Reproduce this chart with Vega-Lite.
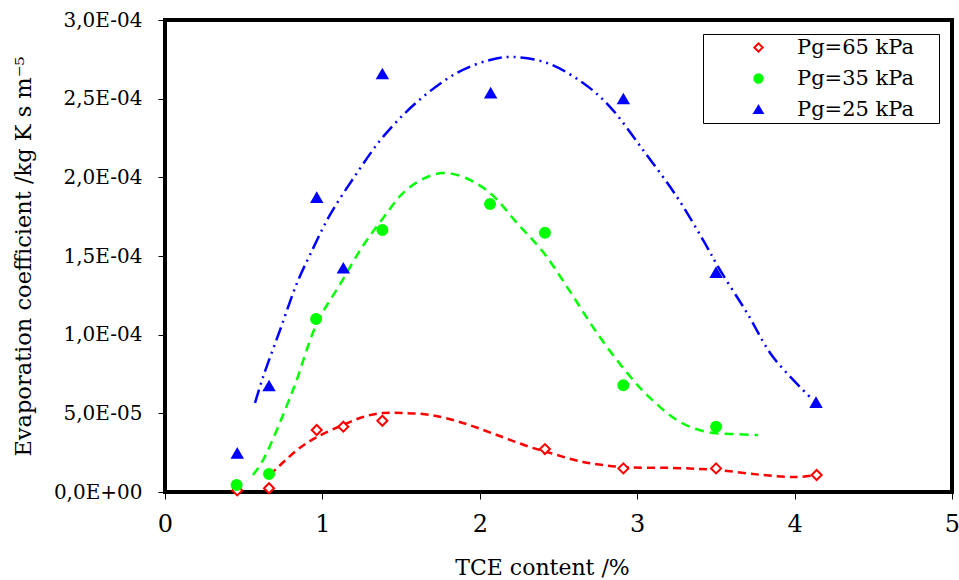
{
  "$schema": "https://vega.github.io/schema/vega-lite/v6.json",
  "width": 787,
  "height": 472,
  "autosize": {"type": "none"},
  "padding": {"left": 165, "top": 20, "right": 7, "bottom": 88},
  "background": "white",
  "config": {
    "font": "DejaVu Serif",
    "view": {"stroke": "black", "strokeWidth": 4},
    "axis": {"grid": false, "domain": false, "tickColor": "black", "tickWidth": 1, "labelColor": "black", "titleColor": "black", "titleFontWeight": "normal", "labelFont": "DejaVu Serif", "titleFont": "DejaVu Serif"},
    "legend": {"labelFont": "DejaVu Serif", "titleFont": "DejaVu Serif"}
  },
  "datasets": {
    "points": [
      {"series": "Pg=65 kPa", "x": 0.459, "y": 0.000001},
      {"series": "Pg=65 kPa", "x": 0.661, "y": 0.0000024},
      {"series": "Pg=65 kPa", "x": 0.964, "y": 0.0000394},
      {"series": "Pg=65 kPa", "x": 1.133, "y": 0.0000415},
      {"series": "Pg=65 kPa", "x": 1.381, "y": 0.0000453},
      {"series": "Pg=65 kPa", "x": 2.414, "y": 0.0000273},
      {"series": "Pg=65 kPa", "x": 2.912, "y": 0.000015},
      {"series": "Pg=65 kPa", "x": 3.501, "y": 0.000015},
      {"series": "Pg=65 kPa", "x": 4.14, "y": 0.0000108},
      {"series": "Pg=35 kPa", "x": 0.455, "y": 0.0000045},
      {"series": "Pg=35 kPa", "x": 0.661, "y": 0.0000114},
      {"series": "Pg=35 kPa", "x": 0.96, "y": 0.00011},
      {"series": "Pg=35 kPa", "x": 1.381, "y": 0.0001666},
      {"series": "Pg=35 kPa", "x": 2.065, "y": 0.0001831},
      {"series": "Pg=35 kPa", "x": 2.414, "y": 0.0001648},
      {"series": "Pg=35 kPa", "x": 2.912, "y": 0.0000678},
      {"series": "Pg=35 kPa", "x": 3.501, "y": 0.0000415},
      {"series": "Pg=25 kPa", "x": 0.459, "y": 0.0000246},
      {"series": "Pg=25 kPa", "x": 0.661, "y": 0.0000674},
      {"series": "Pg=25 kPa", "x": 0.964, "y": 0.0001871},
      {"series": "Pg=25 kPa", "x": 1.133, "y": 0.0001422},
      {"series": "Pg=25 kPa", "x": 1.381, "y": 0.0002657},
      {"series": "Pg=25 kPa", "x": 2.069, "y": 0.0002535},
      {"series": "Pg=25 kPa", "x": 2.912, "y": 0.0002498},
      {"series": "Pg=25 kPa", "x": 3.501, "y": 0.0001394},
      {"series": "Pg=25 kPa", "x": 4.136, "y": 0.0000568}
    ],
    "curves": [
      {"series": "Pg=65 kPa", "x": 0.667, "y": 0.0000108},
      {"series": "Pg=65 kPa", "x": 0.839, "y": 0.0000267},
      {"series": "Pg=65 kPa", "x": 0.966, "y": 0.000035},
      {"series": "Pg=65 kPa", "x": 1.131, "y": 0.0000426},
      {"series": "Pg=65 kPa", "x": 1.258, "y": 0.0000477},
      {"series": "Pg=65 kPa", "x": 1.385, "y": 0.0000502},
      {"series": "Pg=65 kPa", "x": 1.512, "y": 0.0000502},
      {"series": "Pg=65 kPa", "x": 1.684, "y": 0.000049},
      {"series": "Pg=65 kPa", "x": 1.893, "y": 0.0000439},
      {"series": "Pg=65 kPa", "x": 2.109, "y": 0.0000362},
      {"series": "Pg=65 kPa", "x": 2.319, "y": 0.0000286},
      {"series": "Pg=65 kPa", "x": 2.427, "y": 0.0000254},
      {"series": "Pg=65 kPa", "x": 2.656, "y": 0.0000191},
      {"series": "Pg=65 kPa", "x": 2.91, "y": 0.0000159},
      {"series": "Pg=65 kPa", "x": 3.227, "y": 0.0000153},
      {"series": "Pg=65 kPa", "x": 3.507, "y": 0.000014},
      {"series": "Pg=65 kPa", "x": 3.799, "y": 0.0000108},
      {"series": "Pg=65 kPa", "x": 4.015, "y": 0.0000095},
      {"series": "Pg=65 kPa", "x": 4.142, "y": 0.0000108},
      {"series": "Pg=35 kPa", "x": 0.559, "y": 0.0000108},
      {"series": "Pg=35 kPa", "x": 0.623, "y": 0.0000203},
      {"series": "Pg=35 kPa", "x": 0.813, "y": 0.0000648},
      {"series": "Pg=35 kPa", "x": 0.966, "y": 0.0001074},
      {"series": "Pg=35 kPa", "x": 1.112, "y": 0.000132},
      {"series": "Pg=35 kPa", "x": 1.258, "y": 0.0001565},
      {"series": "Pg=35 kPa", "x": 1.385, "y": 0.000174},
      {"series": "Pg=35 kPa", "x": 1.512, "y": 0.00019},
      {"series": "Pg=35 kPa", "x": 1.639, "y": 0.000199},
      {"series": "Pg=35 kPa", "x": 1.766, "y": 0.0002028},
      {"series": "Pg=35 kPa", "x": 1.893, "y": 0.0002003},
      {"series": "Pg=35 kPa", "x": 2.065, "y": 0.0001901},
      {"series": "Pg=35 kPa", "x": 2.236, "y": 0.000171},
      {"series": "Pg=35 kPa", "x": 2.406, "y": 0.000152},
      {"series": "Pg=35 kPa", "x": 2.576, "y": 0.000127},
      {"series": "Pg=35 kPa", "x": 2.745, "y": 0.000101},
      {"series": "Pg=35 kPa", "x": 2.936, "y": 0.0000757},
      {"series": "Pg=35 kPa", "x": 3.081, "y": 0.0000598},
      {"series": "Pg=35 kPa", "x": 3.272, "y": 0.0000445},
      {"series": "Pg=35 kPa", "x": 3.443, "y": 0.0000381},
      {"series": "Pg=35 kPa", "x": 3.609, "y": 0.0000369},
      {"series": "Pg=35 kPa", "x": 3.767, "y": 0.0000362},
      {"series": "Pg=25 kPa", "x": 0.572, "y": 0.0000566},
      {"series": "Pg=25 kPa", "x": 0.623, "y": 0.0000731},
      {"series": "Pg=25 kPa", "x": 0.731, "y": 0.000103},
      {"series": "Pg=25 kPa", "x": 0.839, "y": 0.0001329},
      {"series": "Pg=25 kPa", "x": 0.921, "y": 0.0001507},
      {"series": "Pg=25 kPa", "x": 1.048, "y": 0.0001761},
      {"series": "Pg=25 kPa", "x": 1.22, "y": 0.0002028},
      {"series": "Pg=25 kPa", "x": 1.385, "y": 0.0002257},
      {"series": "Pg=25 kPa", "x": 1.601, "y": 0.0002479},
      {"series": "Pg=25 kPa", "x": 1.855, "y": 0.0002664},
      {"series": "Pg=25 kPa", "x": 2.065, "y": 0.0002746},
      {"series": "Pg=25 kPa", "x": 2.211, "y": 0.0002765},
      {"series": "Pg=25 kPa", "x": 2.427, "y": 0.0002727},
      {"series": "Pg=25 kPa", "x": 2.656, "y": 0.00026},
      {"series": "Pg=25 kPa", "x": 2.827, "y": 0.0002448},
      {"series": "Pg=25 kPa", "x": 3.037, "y": 0.0002174},
      {"series": "Pg=25 kPa", "x": 3.253, "y": 0.0001875},
      {"series": "Pg=25 kPa", "x": 3.418, "y": 0.0001602},
      {"series": "Pg=25 kPa", "x": 3.526, "y": 0.0001411},
      {"series": "Pg=25 kPa", "x": 3.698, "y": 0.0001138},
      {"series": "Pg=25 kPa", "x": 3.863, "y": 0.0000858},
      {"series": "Pg=25 kPa", "x": 4.117, "y": 0.0000585}
    ]
  },
  "encoding": {
    "x": {
      "field": "x", "type": "quantitative",
      "scale": {"domain": [0, 5], "nice": false, "zero": false},
      "axis": {
        "title": "TCE content /%",
        "values": [0, 1, 2, 3, 4, 5],
        "format": "d",
        "labelFontSize": 24,
        "titleFontSize": 22,
        "tickSize": 7,
        "labelPadding": 13,
        "titleX": 377,
        "titleY": 82,
        "titleBaseline": "alphabetic",
        "titleAlign": "center",
        "labelFlush": false
      }
    },
    "y": {
      "field": "y", "type": "quantitative",
      "scale": {"domain": [0, 0.0003], "nice": false},
      "axis": {
        "title": "Evaporation coefficient /kg  K s m⁻⁵",
        "values": [0, 0.00005, 0.0001, 0.00015, 0.0002, 0.00025, 0.0003],
        "labelExpr": "['0,0E+00','5,0E-05','1,0E-04','1,5E-04','2,0E-04','2,5E-04','3,0E-04'][round(datum.value/0.00005)]",
        "labelFontSize": 20,
        "titleFontSize": 22.5,
        "tickSize": 7,
        "labelPadding": 16,
        "titleX": -135,
        "titleY": 236,
        "titleBaseline": "alphabetic",
        "titleAlign": "center",
        "titleAngle": 270,
        "labelFlush": false
      }
    }
  },
  "layer": [
    {
      "data": {"name": "curves"},
      "transform": [{"filter": "datum.series == 'Pg=65 kPa'"}],
      "mark": {"type": "line", "color": "#ff0000", "strokeWidth": 2.5, "strokeDash": [8, 5], "interpolate": "catmull-rom"}
    },
    {
      "data": {"name": "curves"},
      "transform": [{"filter": "datum.series == 'Pg=35 kPa'"}],
      "mark": {"type": "line", "color": "#00ff00", "strokeWidth": 2.5, "strokeDash": [9, 6], "interpolate": "catmull-rom"}
    },
    {
      "data": {"name": "curves"},
      "transform": [{"filter": "datum.series == 'Pg=25 kPa'"}],
      "mark": {"type": "line", "color": "#0000ff", "strokeWidth": 2.5, "strokeDash": [14, 5, 2, 5, 2, 5], "interpolate": "catmull-rom"}
    },
    {
      "data": {"name": "points"},
      "mark": {"type": "point", "size": 100, "strokeWidth": 2, "opacity": 1},
      "encoding": {
        "shape": {
          "field": "series", "type": "nominal", "title": " ",
          "scale": {"domain": ["Pg=65 kPa", "Pg=35 kPa", "Pg=25 kPa"], "range": ["diamond", "circle", "triangle-up"]},
          "legend": {
            "orient": "none", "legendX": 538, "legendY": 14,
            "padding": 3, "symbolOffset": 42, "labelOffset": 28,
            "labelFontSize": 21, "rowPadding": 9, "symbolSize": 70, "symbolStrokeWidth": 2,
            "titleOrient": "right", "titlePadding": 22, "titleFontSize": 21,
            "strokeColor": "black", "fillColor": "white", "labelColor": "black"
          }
        },
        "stroke": {
          "field": "series", "type": "nominal", "title": " ",
          "scale": {"domain": ["Pg=65 kPa", "Pg=35 kPa", "Pg=25 kPa"], "range": ["#ff0000", "#00ff00", "#0000ff"]}
        },
        "fill": {
          "field": "series", "type": "nominal", "title": " ",
          "scale": {"domain": ["Pg=65 kPa", "Pg=35 kPa", "Pg=25 kPa"], "range": ["#ffffff", "#00ff00", "#0000ff"]}
        }
      }
    }
  ]
}
